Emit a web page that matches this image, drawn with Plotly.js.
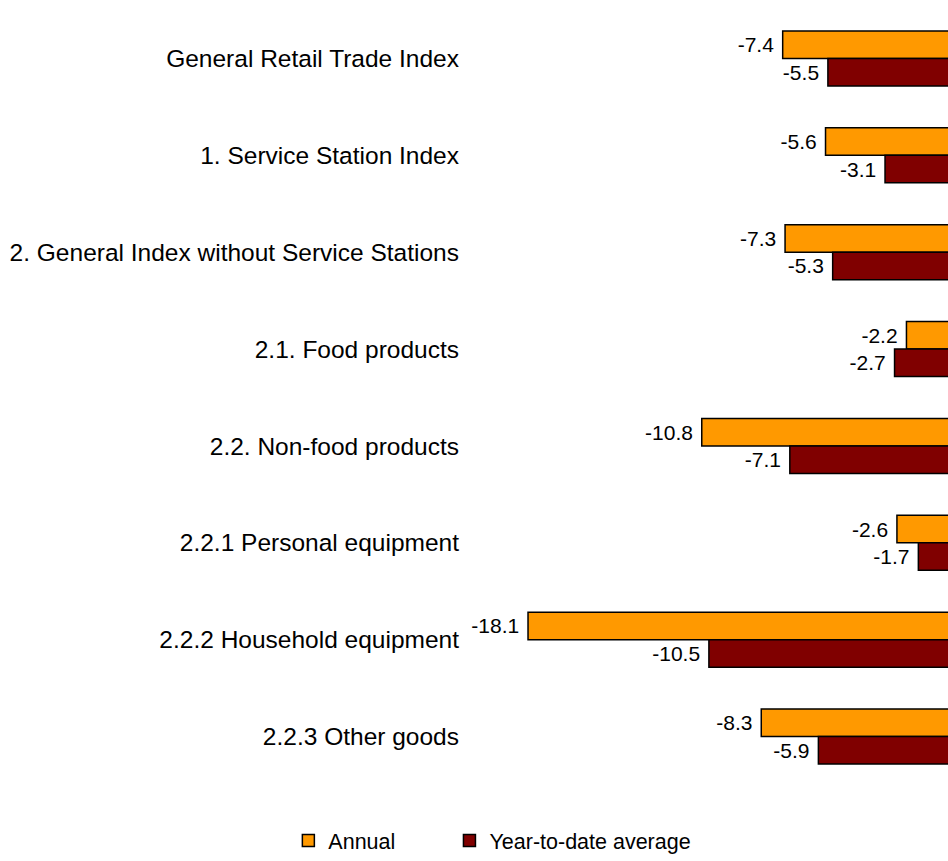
<!DOCTYPE html>
<html>
<head>
<meta charset="utf-8">
<script src="https://cdn.plot.ly/plotly-3.0.1.min.js"></script>
<style>html,body{margin:0;padding:0;background:#fff;}#chart{width:948px;height:861px;}</style>
</head>
<body>
<div id="chart"></div>
<script>
const categories = [
  "General Retail Trade Index",
  "1. Service Station Index",
  "2. General Index without Service Stations",
  "2.1. Food products",
  "2.2. Non-food products",
  "2.2.1 Personal equipment",
  "2.2.2 Household equipment",
  "2.2.3 Other goods"
];
const annual = [-7.4, -5.6, -7.3, -2.2, -10.8, -2.6, -18.1, -8.3];
const ytdAverage = [-5.5, -3.1, -5.3, -2.7, -7.1, -1.7, -10.5, -5.9];
const seriesNames = ["Annual", "Year-to-date average"];

const FONT = "'Liberation Sans', Arial, sans-serif";
const labelTpl = "%{x:.1f}\u00a0";

const traces = [
  {
    type: "bar", orientation: "h", name: seriesNames[0], legend: "legend",
    y: categories, x: annual,
    marker: {color: "#FF9900", line: {color: "#000000", width: 1.5}},
    texttemplate: labelTpl, textposition: "outside", constraintext: "none",
    cliponaxis: false,
    textfont: {family: FONT, size: 21, color: "#000"},
    hoverinfo: "skip"
  },
  {
    type: "bar", orientation: "h", name: seriesNames[1], legend: "legend2",
    y: categories, x: ytdAverage,
    marker: {color: "#800000", line: {color: "#000000", width: 1.5}},
    texttemplate: labelTpl, textposition: "outside", constraintext: "none",
    cliponaxis: false,
    textfont: {family: FONT, size: 21, color: "#000"},
    hoverinfo: "skip"
  }
];

const legendBase = {
  orientation: "h", xanchor: "left", yref: "container", y: -0.004, yanchor: "bottom",
  font: {family: FONT, size: 21.5, color: "#000"},
  bgcolor: "rgba(0,0,0,0)"
};

const layout = {
  width: 948, height: 861,
  margin: {l: 470, r: 0, t: 10, b: 76, pad: 0, autoexpand: false},
  paper_bgcolor: "#ffffff", plot_bgcolor: "rgba(0,0,0,0)",
  font: {family: FONT, color: "#000"},
  barmode: "group", bargap: 0.432, bargroupgap: 0,
  showlegend: true,
  legend: Object.assign({}, legendBase, {x: -0.38}),
  legend2: Object.assign({}, legendBase, {x: -0.043}),
  xaxis: {
    range: [-20.538, -0.454], showgrid: false, zeroline: false,
    showticklabels: false, showline: false, ticks: "", fixedrange: true
  },
  yaxis: {
    autorange: "reversed", showgrid: false, zeroline: false, showline: false,
    ticks: "", automargin: false, ticklabelstandoff: 10,
    tickfont: {family: FONT, size: 24.5, color: "#000"}, fixedrange: true
  }
};

Plotly.newPlot("chart", traces, layout, {displayModeBar: false, staticPlot: true});
</script>
</body>
</html>
